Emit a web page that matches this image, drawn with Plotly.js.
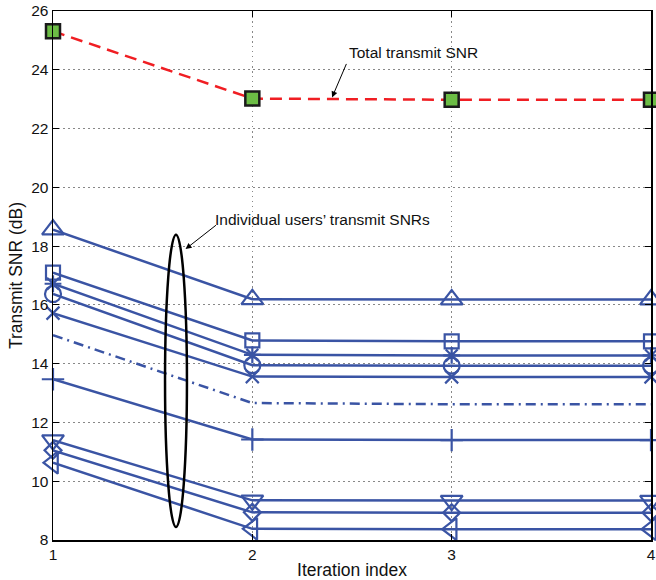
<!DOCTYPE html>
<html><head><meta charset="utf-8">
<script src="https://cdn.plot.ly/plotly-3.0.1.min.js"></script>
<style>body{margin:0;padding:0;background:#fff}#chart{width:656px;height:580px}</style>
</head><body><div id="chart"></div>
<script>
const iterations = [1, 2, 3, 4];
const totalSNR = [25.31, 23.02, 22.98, 22.98];
const userTriUp = [18.56, 16.19, 16.18, 16.18];
const userSquare = [17.10, 14.79, 14.76, 14.76];
const userStar = [16.72, 14.30, 14.28, 14.28];
const userCircle = [16.37, 13.95, 13.93, 13.93];
const userX = [15.72, 13.56, 13.55, 13.55];
const userDashDot = [14.97, 12.66, 12.62, 12.62];
const userPlus = [13.47, 11.42, 11.40, 11.40];
const userTriDown = [11.40, 9.35, 9.34, 9.34];
const userDiamond = [11.05, 8.94, 8.93, 8.93];
const userTriLeft = [10.63, 8.38, 8.37, 8.37];
const yTicks = [8, 10, 12, 14, 16, 18, 20, 22, 24, 26];

const blue = '#3a54a4';
function userTrace(y, sym, size, dash) {
  const t = {
    x: iterations, y: y, mode: sym ? 'lines+markers' : 'lines', cliponaxis: false,
    line: {color: blue, width: 2.5, dash: dash || 'solid'},
    showlegend: false, hoverinfo: 'skip'
  };
  if (sym) t.marker = {symbol: sym, size: size, color: blue, line: {color: blue, width: 2.2}};
  return t;
}
const data = [
  userTrace(userTriUp, 'triangle-up-open', 19),
  userTrace(userSquare, 'square-open', 14),
  userTrace(userStar, 'asterisk-open', 14),
  userTrace(userCircle, 'circle-open', 16),
  userTrace(userX, 'x-thin-open', 13),
  userTrace(userDashDot, null, 0, '10px,5px,2px,5px'),
  userTrace(userPlus, 'cross-thin-open', 16),
  userTrace(userTriDown, 'triangle-down-open', 19),
  userTrace(userDiamond, 'diamond-open', 13),
  userTrace(userTriLeft, 'triangle-left-open', 19),
  {
    x: iterations, y: totalSNR, mode: 'lines+markers', cliponaxis: false,
    line: {color: '#f01e23', width: 2.5, dash: '12px,7px'},
    marker: {symbol: 'square', size: 14, color: '#6cbd45', line: {color: '#1a1a1a', width: 2.5}},
    showlegend: false
  }
];
const axisCommon = {
  showline: true, linecolor: '#000', linewidth: 1.5, mirror: 'ticks',
  ticks: 'inside', ticklen: 6, tickcolor: '#000',
  showgrid: true, gridcolor: '#888', griddash: '1.5px,3.5px', gridwidth: 1,
  zeroline: false, tickfont: {family: 'Liberation Sans, Arial, sans-serif', size: 15.5, color: '#111'}
};
const layout = {
  width: 656, height: 580,
  margin: {l: 53, r: 5, t: 11, b: 40},
  paper_bgcolor: '#fff', plot_bgcolor: '#fff',
  font: {family: 'Liberation Sans, Arial, sans-serif', color: '#111'},
  xaxis: Object.assign({}, axisCommon, {range: [1, 4], tickvals: iterations, ticktext: iterations.map(String),
    title: {text: 'Iteration index', font: {size: 17.5}, standoff: 2}}),
  yaxis: Object.assign({}, axisCommon, {range: [8, 26], tickvals: yTicks,
    title: {text: 'Transmit SNR (dB)', font: {size: 17.5}, standoff: 4}}),
  shapes: [{type: 'circle', xref: 'x', yref: 'y', x0: 1.562, x1: 1.672, y0: 8.44, y1: 18.39,
    line: {color: '#000', width: 2.5}}],
  annotations: [
    {x: 2.40, y: 23.06, xref: 'x', yref: 'y', ax: 2.475, ay: 24.25, axref: 'x', ayref: 'y',
     text: '', showarrow: true, arrowhead: 2, arrowsize: 1.2, arrowwidth: 1, arrowcolor: '#000'},
    {x: 2.475, y: 24.6, xref: 'x', yref: 'y', text: 'Total transmit SNR', showarrow: false,
     xanchor: 'left', yanchor: 'middle', font: {size: 15.5, color: '#111'}},
    {x: 1.665, y: 17.9, xref: 'x', yref: 'y', ax: 1.825, ay: 18.75, axref: 'x', ayref: 'y',
     text: '', showarrow: true, arrowhead: 2, arrowsize: 1.2, arrowwidth: 1, arrowcolor: '#000'},
    {x: 1.803, y: 18.92, xref: 'x', yref: 'y', text: 'Individual users\u2019 transmit SNRs', showarrow: false,
     xanchor: 'left', yanchor: 'middle', font: {size: 15.5, color: '#111'}}
  ]
};
Plotly.newPlot('chart', data, layout, {displayModeBar: false, staticPlot: true});
</script></body></html>
